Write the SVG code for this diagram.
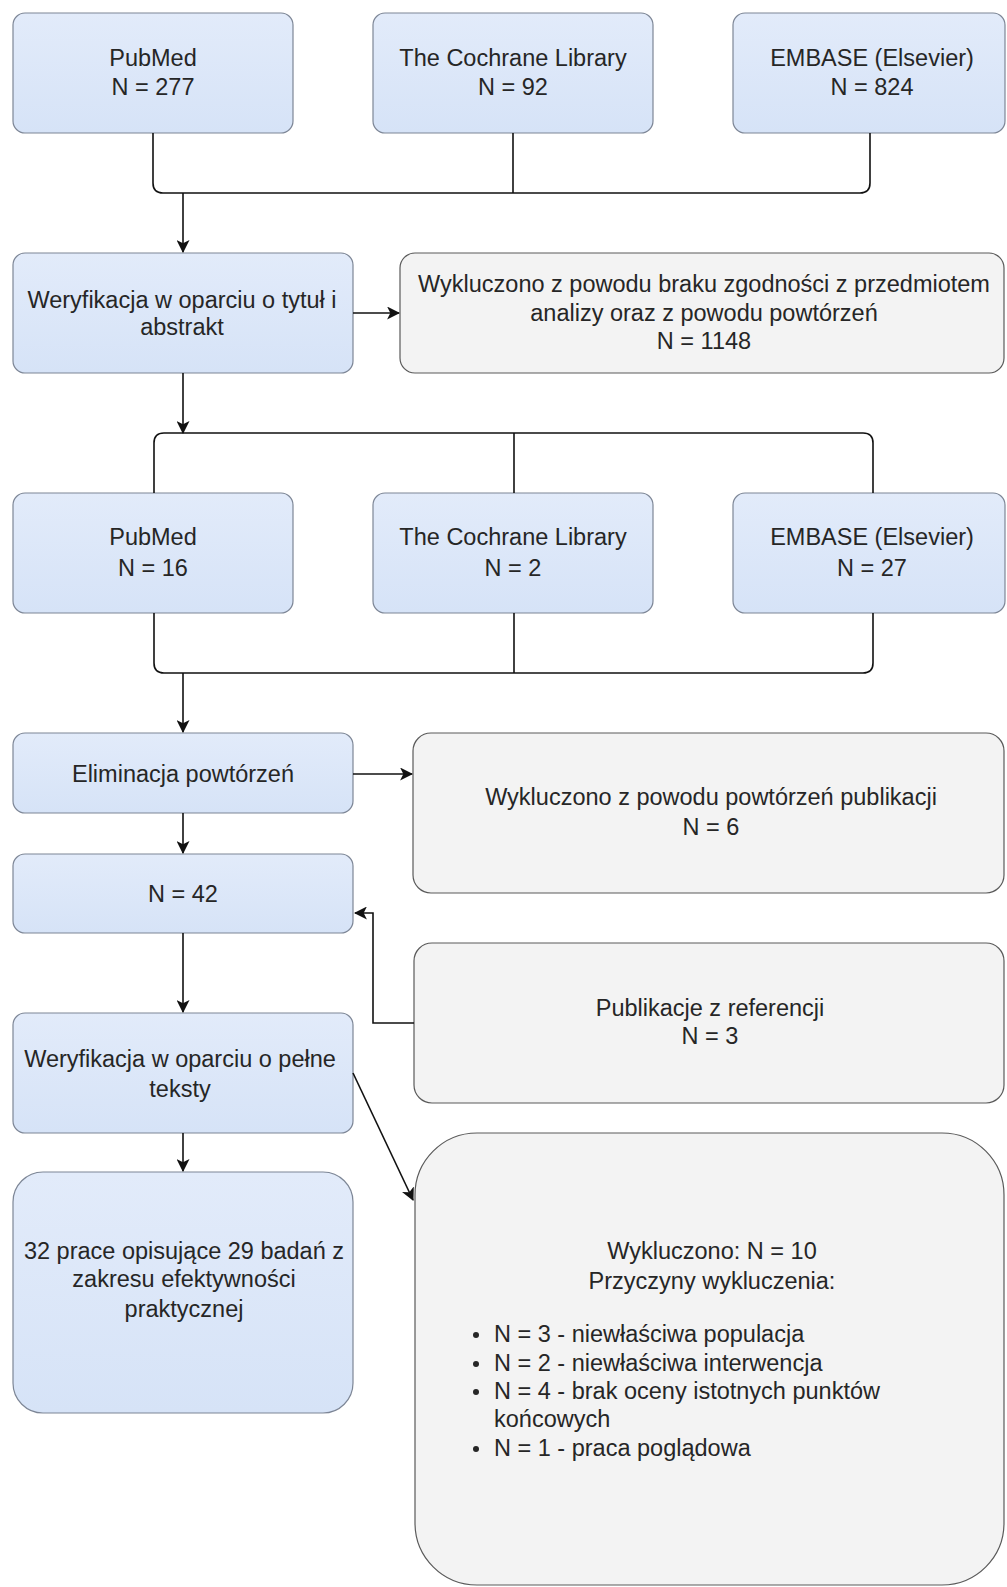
<svg xmlns="http://www.w3.org/2000/svg" width="1007" height="1587" viewBox="0 0 1007 1587">
<defs>
<marker id="ah" viewBox="0 0 12 12" refX="11" refY="6" markerWidth="13" markerHeight="13" markerUnits="userSpaceOnUse" orient="auto">
<path d="M0,0 L12,6 L0,12 L3,6 Z" fill="#111"/>
</marker>
<linearGradient id="blue" x1="0" y1="0" x2="0" y2="1">
<stop offset="0" stop-color="#e2ebfa"/>
<stop offset="1" stop-color="#d6e3f7"/>
</linearGradient>
</defs>
<style>
.b{fill:url(#blue);stroke:#7d8696;stroke-width:1.2}
.g{fill:#f3f3f3;stroke:#5a5a5a;stroke-width:1.2}
text{font-family:"Liberation Sans",Arial,sans-serif;font-size:23.5px;fill:#262626}
.c{text-anchor:middle}
.ln{fill:none;stroke:#111;stroke-width:1.6}
</style>
<rect width="1007" height="1587" fill="#ffffff"/>
<g id="pubmed1"><rect class="b" x="13" y="13" width="280" height="120" rx="12"/><text class="c" x="153" y="66">PubMed</text><text class="c" x="153" y="95">N = 277</text></g>
<g id="cochrane1"><rect class="b" x="373" y="13" width="280" height="120" rx="12"/><text class="c" x="513" y="66">The Cochrane Library</text><text class="c" x="513" y="95">N = 92</text></g>
<g id="embase1"><rect class="b" x="733" y="13" width="272" height="120" rx="12"/><text class="c" x="872" y="66">EMBASE (Elsevier)</text><text class="c" x="872" y="95">N = 824</text></g>
<g id="weryf1"><rect class="b" x="13" y="253" width="340" height="120" rx="12"/><text class="c" x="182" y="308">Weryfikacja w oparciu o tytuł i</text><text class="c" x="182" y="335">abstrakt</text></g>
<g id="excl1"><rect class="g" x="400" y="253" width="604" height="120" rx="15"/><text class="c" x="704" y="292">Wykluczono z powodu braku zgodności z przedmiotem</text><text class="c" x="704" y="321">analizy oraz z powodu powtórzeń</text><text class="c" x="704" y="349">N = 1148</text></g>
<g id="pubmed2"><rect class="b" x="13" y="493" width="280" height="120" rx="12"/><text class="c" x="153" y="545">PubMed</text><text class="c" x="153" y="576">N = 16</text></g>
<g id="cochrane2"><rect class="b" x="373" y="493" width="280" height="120" rx="12"/><text class="c" x="513" y="545">The Cochrane Library</text><text class="c" x="513" y="576">N = 2</text></g>
<g id="embase2"><rect class="b" x="733" y="493" width="272" height="120" rx="12"/><text class="c" x="872" y="545">EMBASE (Elsevier)</text><text class="c" x="872" y="576">N = 27</text></g>
<g id="elim"><rect class="b" x="13" y="733" width="340" height="80" rx="12"/><text class="c" x="183" y="782">Eliminacja powtórzeń</text></g>
<g id="excl2"><rect class="g" x="413" y="733" width="591" height="160" rx="18"/><text class="c" x="711" y="805">Wykluczono z powodu powtórzeń publikacji</text><text class="c" x="711" y="835">N = 6</text></g>
<g id="n42"><rect class="b" x="13" y="854" width="340" height="79" rx="12"/><text class="c" x="183" y="902">N = 42</text></g>
<g id="publ"><rect class="g" x="414" y="943" width="590" height="160" rx="18"/><text class="c" x="710" y="1016">Publikacje z referencji</text><text class="c" x="710" y="1044">N = 3</text></g>
<g id="weryf2"><rect class="b" x="13" y="1013" width="340" height="120" rx="12"/><text class="c" x="180" y="1067">Weryfikacja w oparciu o pełne</text><text class="c" x="180" y="1097">teksty</text></g>
<g id="final"><rect class="b" x="13" y="1172" width="340" height="241" rx="30"/><text class="c" x="184" y="1259">32 prace opisujące 29 badań z</text><text class="c" x="184" y="1287">zakresu efektywności</text><text class="c" x="184" y="1317">praktycznej</text></g>
<g id="excl3"><rect class="g" x="415" y="1133" width="589" height="452" rx="62"/>
<text class="c" x="712" y="1259">Wykluczono: N = 10</text>
<text class="c" x="712" y="1289">Przyczyny wykluczenia:</text>
<circle cx="476" cy="1335" r="3" fill="#262626"/><text x="494" y="1342">N = 3 - niewłaściwa populacja</text>
<circle cx="476" cy="1364" r="3" fill="#262626"/><text x="494" y="1371">N = 2 - niewłaściwa interwencja</text>
<circle cx="476" cy="1392" r="3" fill="#262626"/><text x="494" y="1399">N = 4 - brak oceny istotnych punktów</text>
<text x="494" y="1427">końcowych</text>
<circle cx="476" cy="1449" r="3" fill="#262626"/><text x="494" y="1456">N = 1 - praca poglądowa</text>
</g>
<g id="connectors">
<path class="ln" d="M153,133 V183 Q153,193 163,193 H860 Q870,193 870,183 V133"/>
<path class="ln" d="M513,133 V193"/>
<path class="ln" d="M183,193 V252" marker-end="url(#ah)"/>
<path class="ln" d="M353,313 H399" marker-end="url(#ah)"/>
<path class="ln" d="M183,373 V433" marker-end="url(#ah)"/>
<path class="ln" d="M154,493 V443 Q154,433 164,433 H863 Q873,433 873,443 V493"/>
<path class="ln" d="M514,433 V493"/>
<path class="ln" d="M154,613 V663 Q154,673 164,673 H863 Q873,673 873,663 V613"/>
<path class="ln" d="M514,613 V673"/>
<path class="ln" d="M183,673 V732" marker-end="url(#ah)"/>
<path class="ln" d="M353,774 H412" marker-end="url(#ah)"/>
<path class="ln" d="M183,813 V853" marker-end="url(#ah)"/>
<path class="ln" d="M183,933 V1012" marker-end="url(#ah)"/>
<path class="ln" d="M414,1023 H373 V913 H355" marker-end="url(#ah)"/>
<path class="ln" d="M353,1073 L413,1200" marker-end="url(#ah)"/>
<path class="ln" d="M183,1133 V1171" marker-end="url(#ah)"/>
</g>
</svg>
